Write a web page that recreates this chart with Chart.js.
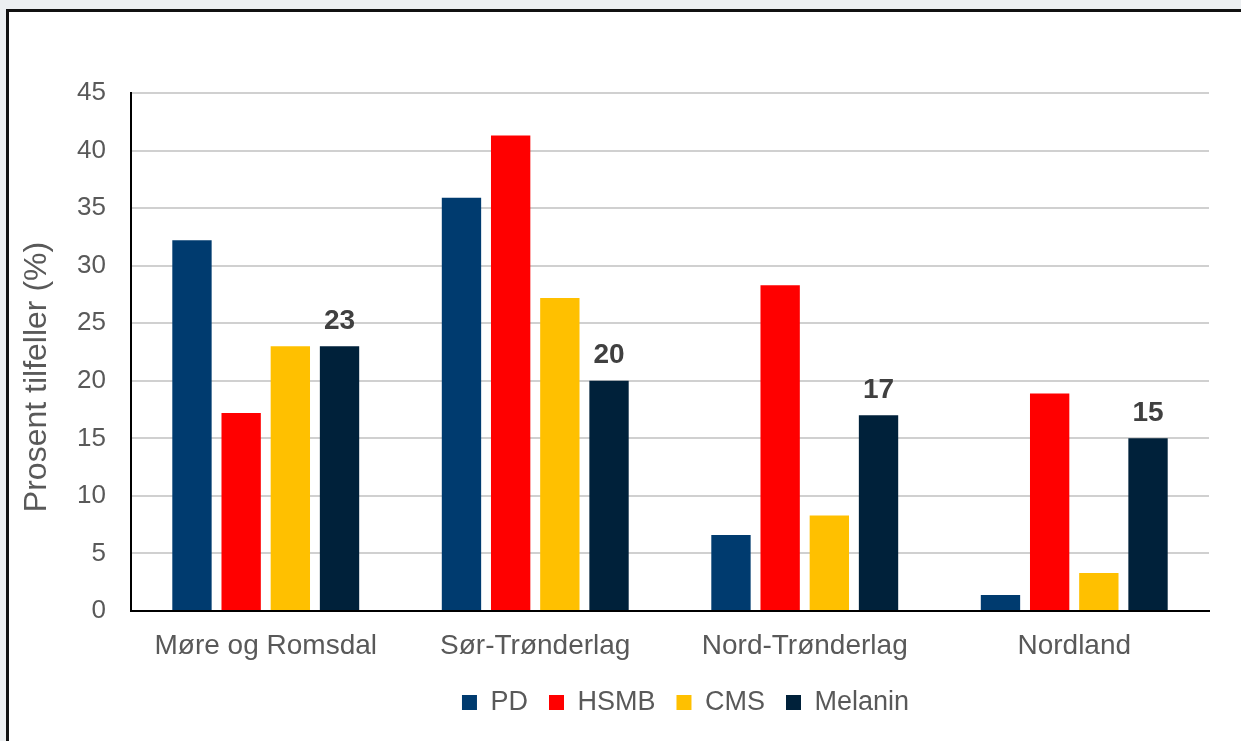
<!DOCTYPE html>
<html lang="no">
<head>
    <meta charset="UTF-8">
    <title>Prosent tilfeller</title>
    <style>
        html, body { margin: 0; padding: 0; }
        body { width: 1241px; height: 741px; overflow: hidden; background: #eceff1; position: relative; }
        .frame { position: absolute; left: 6px; top: 9px; width: 1300px; height: 800px; border: 3px solid #111; background: #fff; }
        .wrap { position: absolute; left: 0; top: 0; width: 1241px; height: 741px; }
    </style>
</head>
<body>
    <div class="frame"></div>
    <div class="wrap"><canvas id="chart" width="1241" height="741"></canvas></div>

    <script src="https://cdn.jsdelivr.net/npm/chart.js"></script>
    <script>
        // data
        const regions = ["Møre og Romsdal", "Sør-Trønderlag", "Nord-Trønderlag", "Nordland"];
        const pd = [32.2, 35.9, 6.6, 1.4];
        const hsmb = [17.2, 41.3, 28.3, 18.9];
        const cms = [23.0, 27.2, 8.3, 3.3];
        const melanin = [23, 20, 17, 15];
        const yTicks = [0, 5, 10, 15, 20, 25, 30, 35, 40, 45];
        const yTitle = "Prosent tilfeller (%)";

        const font = "'Liberation Sans', Arial, sans-serif";
        const grey = "#595959";

        // value labels above the Melanin bars
        const valueLabels = {
            id: 'valueLabels',
            afterDatasetsDraw(chart) {
                const ctx = chart.ctx;
                const meta = chart.getDatasetMeta(3);
                ctx.save();
                ctx.font = "bold 28px " + font;
                ctx.fillStyle = "#404040";
                ctx.textAlign = "center";
                ctx.textBaseline = "middle";
                meta.data.forEach((bar, i) => {
                    ctx.fillText(String(melanin[i]), bar.x, bar.y - 25);
                });
                ctx.restore();
            }
        };

        // y axis title, sits a bit below the middle of the axis like the original
        const axisTitle = {
            id: 'axisTitle',
            afterDraw(chart) {
                const ctx = chart.ctx;
                const area = chart.chartArea;
                ctx.save();
                ctx.translate(37, (area.top + area.bottom) / 2 + 25);
                ctx.rotate(-Math.PI / 2);
                ctx.font = "32px " + font;
                ctx.fillStyle = grey;
                ctx.textAlign = "center";
                ctx.textBaseline = "middle";
                ctx.fillText(yTitle, 0, 0);
                ctx.restore();
            }
        };

        // keep the legend box short and nudge its row into place
        const legendFit = {
            id: 'legendFit',
            beforeInit(chart) {
                const lg = chart.legend;
                const fit = lg.fit;
                const draw = lg.draw;
                lg.fit = function () { fit.call(lg); lg.height = 70; };
                lg.draw = function () {
                    const ctx = chart.ctx;
                    ctx.save();
                    ctx.translate(81, -3);
                    draw.call(lg);
                    ctx.restore();
                };
            }
        };

        new Chart(document.getElementById('chart').getContext('2d'), {
            type: 'bar',
            data: {
                labels: regions,
                datasets: [
                    { label: "PD", data: pd, backgroundColor: "#003b6f" },
                    { label: "HSMB", data: hsmb, backgroundColor: "#ff0000" },
                    { label: "CMS", data: cms, backgroundColor: "#ffc000" },
                    { label: "Melanin", data: melanin, backgroundColor: "#00213a" }
                ]
            },
            options: {
                responsive: false,
                animation: false,
                categoryPercentage: 0.73,
                barPercentage: 0.8,
                layout: { padding: { top: 93, right: 32, left: 0, bottom: 0 } },
                plugins: {
                    tooltip: { enabled: false },
                    legend: {
                        position: 'bottom',
                        labels: {
                            boxWidth: 15,
                            boxHeight: 15,
                            padding: 21,
                            color: grey,
                            font: { family: font, size: 27 }
                        }
                    }
                },
                scales: {
                    x: {
                        grid: { display: false },
                        border: { display: true, color: "#000", width: 2 },
                        ticks: { color: grey, padding: 10, font: { family: font, size: 28 } },
                        afterFit(scale) { scale.height = 60; }
                    },
                    y: {
                        min: 0,
                        max: 45,
                        afterBuildTicks(scale) { scale.ticks = yTicks.map(v => ({ value: v })); },
                        grid: { color: "#d0d0d0", lineWidth: 2, drawTicks: false },
                        border: { display: true, color: "#000", width: 2 },
                        ticks: { color: grey, padding: 25, font: { family: font, size: 26 } },
                        afterFit(scale) { scale.width = 131; }
                    }
                }
            },
            plugins: [valueLabels, axisTitle, legendFit]
        });
    </script>
</body>
</html>
